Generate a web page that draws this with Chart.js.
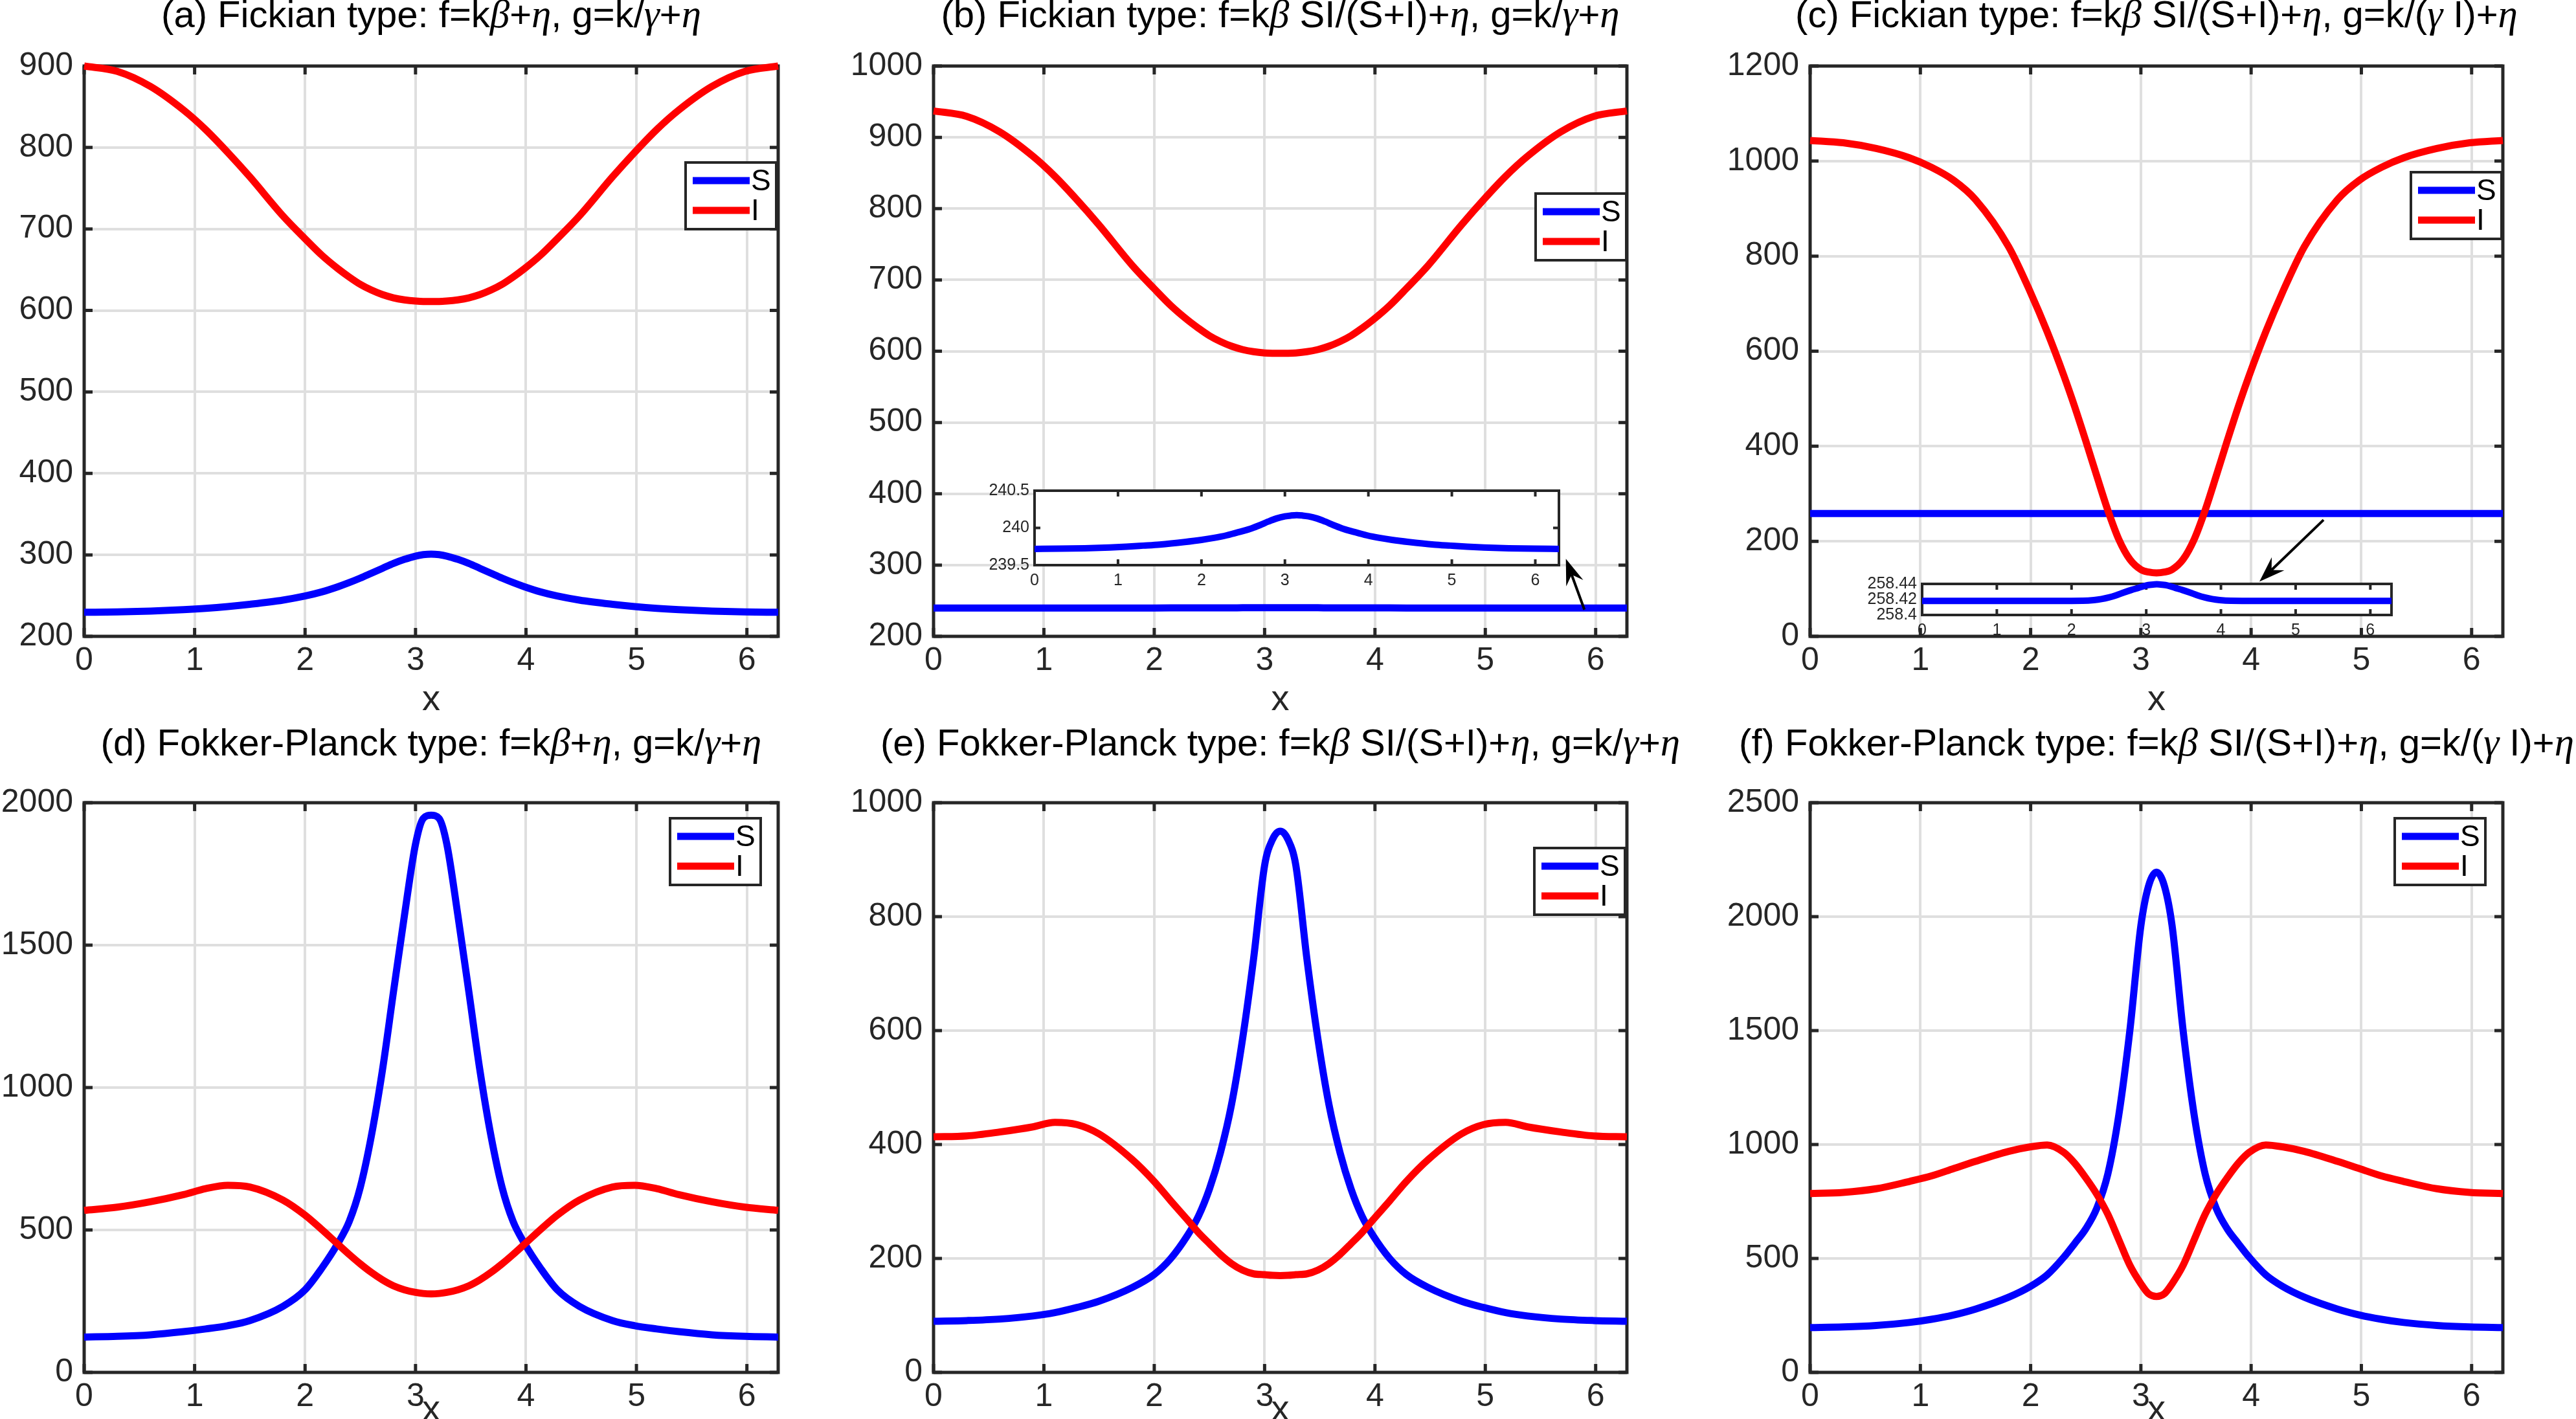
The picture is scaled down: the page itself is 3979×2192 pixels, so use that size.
<!DOCTYPE html>
<html><head><meta charset="utf-8">
<script src="https://cdn.jsdelivr.net/npm/chart.js@4.4.1/dist/chart.umd.min.js"></script>
<style>
html,body{margin:0;padding:0;background:#fff;overflow:hidden;width:3979px;height:2192px;position:relative;}
canvas{position:absolute;}
</style></head><body>
<script>
// ---------------- DATA ----------------
const xs = [0,0.3,0.6,0.9,1.1,1.3,1.5,1.8,2.0,2.15,2.3,2.4,2.5,2.6,2.7,2.8,2.9,3.0,3.07,3.1416,
            3.2132,3.2832,3.3832,3.4832,3.5832,3.6832,3.7832,3.8832,3.9832,4.1332,4.2832,4.4832,4.7832,4.9832,5.1832,5.3832,5.6832,5.9832,6.2832];
const xTicks = [0,1,2,3,4,5,6];
const X_MAX = 6.2832;
const seriesLabels = ['S','I'];

// (a)
const sA = [229.5,230,231,232.7,234.3,236.5,239.3,244.5,249.5,254.5,261,266,271.5,277.5,283.5,289.5,294.5,298.5,300.3,301,
            300.3,298.5,294.5,289.5,283.5,277.5,271.5,266,261,254.5,249.5,244.5,239.3,236.5,234.3,232.7,231,230,229.5];
const iA = [900,893.5,875,846,822,794,764,716,688,668,651,641,632,625,619.5,615.5,613,611.5,611,611,
            611,611.5,613,615.5,619.5,625,632,641,651,668,688,716,764,794,822,846,875,893.5,900];
const yTicksA = [200,300,400,500,600,700,800,900];
// (b)
const sB = [239.718,239.721,239.727,239.738,239.748,239.762,239.777,239.811,239.839,239.866,239.900,239.930,239.960,239.994,240.037,240.085,240.127,240.155,240.166,240.172,
            240.166,240.155,240.127,240.085,240.037,239.994,239.960,239.930,239.900,239.866,239.839,239.811,239.777,239.762,239.748,239.738,239.727,239.721,239.718];
const iB = [937,929.4,907.6,873.5,845.2,812.3,777,720.5,687.6,664,644,632.3,621.7,613.5,607,602.3,599.3,597.6,597.1,597,
            597.1,597.6,599.3,602.3,607,613.5,621.7,632.3,644,664,687.6,720.5,777,812.3,845.2,873.5,907.6,929.4,937];
const yTicksB = [200,300,400,500,600,700,800,900,1000];
const yTicksInsetB = [239.5,240,240.5];
// (c)
const sC = [258.4182,258.4182,258.4182,258.4182,258.4182,258.4182,258.4182,258.4182,258.4182,258.4183,258.4192,258.4205,258.4226,258.4255,258.4290,258.4322,258.4350,258.4380,258.4390,258.4395,
            258.4390,258.4380,258.4350,258.4322,258.4290,258.4255,258.4226,258.4205,258.4192,258.4183,258.4182,258.4182,258.4182,258.4182,258.4182,258.4182,258.4182,258.4182,258.4182];
const iC = [1043.5,1038.5,1026.5,1007,987,960,919,820,723,641,549.5,483,411.5,337.5,265.5,204,162,140.5,135.2,133.4,
            135.2,140.5,162,204,265.5,337.5,411.5,483,549.5,641,723,820,919,960,987,1007,1026.5,1038.5,1043.5];
const yTicksC = [0,200,400,600,800,1000,1200];
const yTicksInsetC = [258.4,258.42,258.44];
// (d)
const sD = [124,126.5,132,143,152.5,164,182,232,290,365,455,530,650,830,1060,1335,1605,1855,1945,1956,
            1945,1855,1605,1335,1060,830,650,530,455,365,290,232,182,164,152.5,143,132,126.5,124];
const iD = [569,580,599,624,645,657,651,605,552,502,449,414,381,351,325,304,290,281,277,275.5,
            277,281,290,304,325,351,381,414,449,502,552,605,651,657,645,624,599,580,569];
const yTicksD = [0,500,1000,1500,2000];
// (e)
const sE = [89.7,91,93.6,99,105,114,125,149,172,200,240,274,322,386,470,585,726,890,935,950,
            935,890,726,585,470,386,322,274,240,200,172,149,125,114,105,99,93.6,91,89.7];
const iE = [413.5,415,422,431,439,435,418.6,373.7,335,301,268,245.5,226,207,191,179.5,173,171.5,170.4,170,
            170.4,171.5,173,179.5,191,207,226,245.5,268,301,335,373.7,418.6,435,439,431,422,415,413.5];
const yTicksE = [0,200,400,600,800,1000];
// (f)
const sF = [197,199.5,206,219,233,252,278,330,378,428,505,566,630,720,870,1130,1500,1960,2135,2195,
            2135,1960,1500,1130,870,720,630,566,505,428,378,330,278,252,233,219,206,199.5,197];
const iF = [785,790,806,838,862,894,926,970,990,998,966,918,854,782,694,582,470,389,345,333,
            345,389,470,582,694,782,854,918,966,998,990,970,926,894,862,838,806,790,785];
const yTicksF = [0,500,1000,1500,2000,2500];

const titles = [
  '(a) Fickian type: f=kβ+η, g=k/γ+η',
  '(b) Fickian type: f=kβ SI/(S+I)+η, g=k/γ+η',
  '(c) Fickian type: f=kβ SI/(S+I)+η, g=k/(γ I)+η',
  '(d) Fokker-Planck type: f=kβ+η, g=k/γ+η',
  '(e) Fokker-Planck type: f=kβ SI/(S+I)+η, g=k/γ+η',
  '(f) Fokker-Planck type: f=kβ SI/(S+I)+η, g=k/(γ I)+η'
];

// ---------------- STYLE / LAYOUT ----------------
const SANS = '"Liberation Sans", Arial, Helvetica, sans-serif';
const SERIF = '"Liberation Serif", "Times New Roman", serif';
const AXC = '#262626';
const BLUE = '#0000ff', RED = '#ff0000';
const GRIDC = '#dfdfdf';

const panels = [
  {L:130,  T:102,  R:1202, B:983,  s:sA, i:iA, yt:yTicksA, leg:{r:3,  t:149}, tOff:60, xOff:114},
  {L:1442, T:102,  R:2513, B:983,  s:sB, i:iB, yt:yTicksB, leg:{r:1,  t:197}, tOff:60, xOff:114},
  {L:2796, T:102,  R:3866, B:983,  s:sC, i:iC, yt:yTicksC, leg:{r:2,  t:164}, tOff:60, xOff:114},
  {L:130,  T:1240, R:1202, B:2120, s:sD, i:iD, yt:yTicksD, leg:{r:27, t:24},  tOff:73, xOff:74},
  {L:1442, T:1240, R:2513, B:2120, s:sE, i:iE, yt:yTicksE, leg:{r:3,  t:70},  tOff:73, xOff:74},
  {L:2796, T:1240, R:3866, B:2120, s:sF, i:iF, yt:yTicksF, leg:{r:27, t:24},  tOff:73, xOff:74}
];

// ---------------- PLUGINS ----------------
const framePlugin = {
  id: 'frame',
  beforeDatasetsDraw(chart, args, o) {
    const {ctx, chartArea: a, scales: {x, y}} = chart;
    ctx.save();
    ctx.strokeStyle = AXC;
    ctx.lineWidth = o.lw;
    ctx.lineCap = 'butt';
    ctx.beginPath();
    x.ticks.forEach(t => {
      const px = x.getPixelForValue(t.value);
      ctx.moveTo(px, a.bottom); ctx.lineTo(px, a.bottom - o.tl);
      ctx.moveTo(px, a.top); ctx.lineTo(px, a.top + o.tl);
    });
    y.ticks.forEach(t => {
      const py = y.getPixelForValue(t.value);
      ctx.moveTo(a.left, py); ctx.lineTo(a.left + o.tl, py);
      ctx.moveTo(a.right, py); ctx.lineTo(a.right - o.tl, py);
    });
    ctx.stroke();
    ctx.lineJoin = 'miter';
    ctx.strokeRect(a.left, a.top, a.right - a.left, a.bottom - a.top);
    ctx.restore();
  }
};

const bgPlugin = {
  id: 'areaBg',
  beforeDraw(chart, args, o) {
    if (!o || !o.on) return;
    const {ctx, chartArea: a} = chart;
    ctx.save(); ctx.fillStyle = '#fff';
    ctx.fillRect(a.left, a.top, a.right - a.left, a.bottom - a.top);
    ctx.restore();
  }
};

function drawMixed(ctx, text, cx, baseline, size) {
  const runs = [];
  for (const ch of text) {
    const g = 'βγη'.includes(ch);
    if (runs.length && runs[runs.length - 1].g === g) runs[runs.length - 1].t += ch;
    else runs.push({t: ch, g});
  }
  const fontOf = g => g ? `italic ${Math.round(size * 1.05)}px ${SERIF}` : `${size}px ${SANS}`;
  let total = 0;
  runs.forEach(r => { ctx.font = fontOf(r.g); r.w = ctx.measureText(r.t).width; total += r.w; });
  let x = cx - total / 2;
  ctx.textAlign = 'left'; ctx.textBaseline = 'alphabetic';
  runs.forEach(r => { ctx.font = fontOf(r.g); ctx.fillText(r.t, x, baseline); x += r.w; });
}

const textPlugin = {
  id: 'mtext',
  afterDraw(chart, args, o) {
    if (!o || !o.title) return;
    const {ctx, chartArea: a} = chart;
    const cx = (a.left + a.right) / 2;
    ctx.save();
    ctx.fillStyle = '#000';
    drawMixed(ctx, o.title, cx, a.top - o.tOff, o.tSize);
    ctx.fillStyle = AXC;
    ctx.font = `${o.xSize}px ${SANS}`;
    ctx.textAlign = 'center'; ctx.textBaseline = 'alphabetic';
    ctx.fillText('x', cx, a.bottom + o.xOff);
    ctx.restore();
  }
};

const legendPlugin = {
  id: 'mlegend',
  afterDraw(chart, args, o) {
    if (!o || !o.on) return;
    const {ctx, chartArea: a} = chart;
    const w = 140, h = 103;
    const left = a.right - o.r - w, top = a.top + o.t;
    ctx.save();
    ctx.fillStyle = '#fff';
    ctx.fillRect(left, top, w, h);
    ctx.strokeStyle = AXC; ctx.lineWidth = 4;
    ctx.strokeRect(left, top, w, h);
    const rows = [28, 74];
    seriesLabels.forEach((lab, k) => {
      const ds = chart.data.datasets.find(d => d.label === lab);
      ctx.strokeStyle = ds.borderColor; ctx.lineWidth = 11; ctx.lineCap = 'butt';
      ctx.beginPath(); ctx.moveTo(left + 11, top + rows[k]); ctx.lineTo(left + 99, top + rows[k]); ctx.stroke();
      ctx.fillStyle = '#000'; ctx.font = `46px ${SANS}`;
      ctx.textAlign = 'left'; ctx.textBaseline = 'middle';
      ctx.fillText(lab, left + 101, top + rows[k] + 2);
    });
    ctx.restore();
  }
};

function drawArrow(ctx, x1, y1, x2, y2, len, wid) {
  const ang = Math.atan2(y2 - y1, x2 - x1);
  const c = Math.cos(ang), s = Math.sin(ang);
  const nx = -s, ny = c;
  const bx = x2 - c * len, by = y2 - s * len;
  const kx = x2 - c * len * 0.65, ky = y2 - s * len * 0.65;
  ctx.beginPath(); ctx.moveTo(x1, y1); ctx.lineTo(kx, ky); ctx.stroke();
  ctx.beginPath();
  ctx.moveTo(x2, y2);
  ctx.lineTo(bx + nx * wid / 2, by + ny * wid / 2);
  ctx.lineTo(kx, ky);
  ctx.lineTo(bx - nx * wid / 2, by - ny * wid / 2);
  ctx.closePath(); ctx.fill();
}

const arrowPlugin = {
  id: 'marrow',
  afterDatasetsDraw(chart, args, o) {
    if (!o || !o.from) return;
    const {ctx, scales: {x, y}} = chart;
    ctx.save();
    ctx.strokeStyle = '#000'; ctx.fillStyle = '#000'; ctx.lineWidth = 4;
    drawArrow(ctx, x.getPixelForValue(o.from[0]), y.getPixelForValue(o.from[1]),
                   x.getPixelForValue(o.to[0]), y.getPixelForValue(o.to[1]), 40, 28);
    ctx.restore();
  }
};

// ---------------- CHART BUILDERS ----------------
function makeCanvas(left, top, w, h) {
  const c = document.createElement('canvas');
  c.width = w; c.height = h;
  c.style.left = left + 'px'; c.style.top = top + 'px';
  c.style.width = w + 'px'; c.style.height = h + 'px';
  document.body.appendChild(c);
  return c;
}

function datasets(sv, iv, lw) {
  return [
    {label: 'S', data: xs.map((x, k) => ({x, y: sv[k]})), borderColor: BLUE, backgroundColor: BLUE,
     borderWidth: lw, pointRadius: 0, cubicInterpolationMode: 'monotone', fill: false, order: 1, clip: 8},
    {label: 'I', data: xs.map((x, k) => ({x, y: iv[k]})), borderColor: RED, backgroundColor: RED,
     borderWidth: lw, pointRadius: 0, cubicInterpolationMode: 'monotone', fill: false, order: 0, clip: 8}
  ];
}

function scaleOpts(ticksArr, min, max, size, pad, fitProp, fitVal, grid) {
  return {
    type: 'linear', min, max,
    afterBuildTicks: s => { s.ticks = ticksArr.map(v => ({value: v})); },
    afterFit: s => { s[fitProp] = fitVal; },
    grid: grid ? {color: GRIDC, lineWidth: 4, drawTicks: false} : {display: false, drawTicks: false},
    border: {display: false},
    ticks: {font: {family: SANS, size}, color: AXC, padding: pad, autoSkip: false, maxRotation: 0,
            callback: v => String(v)}
  };
}

const PADL = 80, YW = 140, PADT = 130, PADR = 150, XH = 140;

function mainChart(p, idx) {
  const W = (p.R - p.L) + PADL + YW + PADR;
  const H = (p.B - p.T) + PADT + XH;
  const c = makeCanvas(p.L - PADL - YW, p.T - PADT, W, H);
  const ymin = p.yt[0], ymax = p.yt[p.yt.length - 1];
  const opts = {
    responsive: false, animation: false, devicePixelRatio: 1,
    layout: {padding: {left: PADL, top: PADT, right: PADR, bottom: 0}},
    plugins: {
      legend: {display: false}, tooltip: {enabled: false},
      frame: {lw: 5, tl: 13},
      mtext: {title: titles[idx], tOff: p.tOff, tSize: 58, xOff: p.xOff, xSize: 56},
      mlegend: {on: true, r: p.leg.r, t: p.leg.t},
      marrow: p.arrow || {}
    },
    scales: {
      x: scaleOpts(xTicks, 0, X_MAX, 50, 8, 'height', XH, true),
      y: scaleOpts(p.yt, ymin, ymax, 50, 17, 'width', YW, true)
    }
  };
  return new Chart(c, {type: 'line', data: {datasets: datasets(p.s, p.i, 11)}, options: opts,
                       plugins: [bgPlugin, framePlugin, arrowPlugin, legendPlugin, textPlugin]});
}

function insetChart(box, sv, yt) {
  const IL = 10, IY = 90, IT = 20, IR = 20, IX = 60;
  const W = (box.R - box.L) + IL + IY + IR;
  const H = (box.B - box.T) + IT + IX;
  const c = makeCanvas(box.L - IL - IY, box.T - IT, W, H);
  const opts = {
    responsive: false, animation: false, devicePixelRatio: 1,
    layout: {padding: {left: IL, top: IT, right: IR, bottom: 0}},
    plugins: {legend: {display: false}, tooltip: {enabled: false},
              frame: {lw: 4, tl: 9}, areaBg: {on: true}},
    scales: {
      x: scaleOpts(xTicks, 0, X_MAX, 25, 9, 'height', IX, false),
      y: scaleOpts(yt, yt[0], yt[yt.length - 1], 25, 8, 'width', IY, false)
    }
  };
  const ds = datasets(sv, sv, 10).slice(0, 1);
  return new Chart(c, {type: 'line', data: {datasets: ds}, options: opts, plugins: [bgPlugin, framePlugin]});
}

// arrows (annotation positions in data units of the host axes)
panels[1].arrow = {from: [5.898, 237.5], to: [5.730, 308.7]};
panels[2].arrow = {from: [4.657, 245], to: [4.075, 115]};

panels.forEach((p, k) => mainChart(p, k));
insetChart({L:1598, T:755, R:2408, B:873}, sB, yTicksInsetB);
insetChart({L:2969, T:899, R:3694, B:950}, sC, yTicksInsetC);
</script>
</body></html>
